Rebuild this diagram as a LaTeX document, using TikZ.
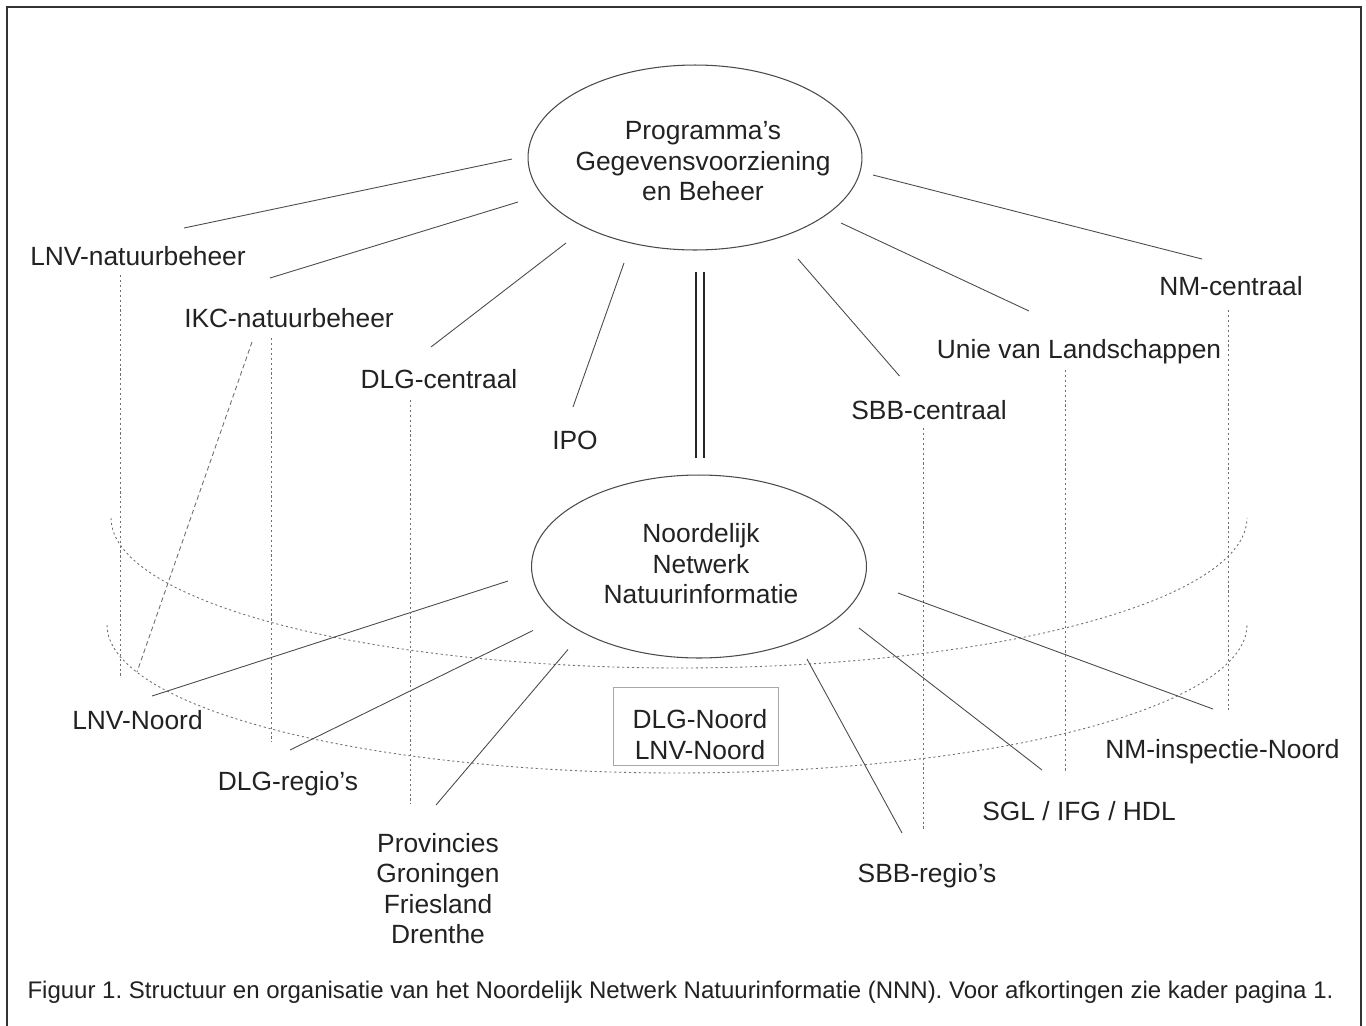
\documentclass[tikz,border=0pt]{standalone}
\usepackage{fontspec}
\setmainfont{Liberation Sans}
\usetikzlibrary{shapes.geometric}
\definecolor{txt}{HTML}{222222}
\definecolor{ln}{HTML}{4A4A4A}
\definecolor{dt}{HTML}{707070}
\definecolor{bx}{HTML}{A8A8A8}
\newcommand\lblfont{\fontsize{15}{17.4}\selectfont}
\newcommand\capfont{\fontsize{13.66}{16}\selectfont}
\frenchspacing
\tikzset{
  lbl/.style={font=\lblfont, text=txt, inner sep=0pt, anchor=base},
  mlbl/.style={font=\lblfont, text=txt, inner sep=0pt, align=center},
  bigell/.style={ellipse, draw=ln, line width=0.6pt, inner sep=0pt},
  link/.style={draw=ln, line width=0.5pt},
  dotl/.style={draw=dt, line width=0.5pt, dash pattern=on 1.2pt off 1.6pt},
  dashl/.style={draw=dt, line width=0.5pt, dash pattern=on 2.6pt off 1.8pt},
  framel/.style={draw=black!80, line width=1.4pt},
  kaderbox/.style={draw=bx, line width=0.5pt, inner sep=0pt},
  dbl/.style={draw=black!85, line width=1.4pt, double=white, double distance=2.9pt}
}
\begin{document}
\begin{tikzpicture}[x=0.02cm,y=-0.02cm]
\useasboundingbox (0,0) rectangle (1366,1025);
\fill[white] (0,0) rectangle (1366,1025);
% frame
\draw[framel] (7,1040) -- (7,7) -- (1361,7) -- (1361,1040);

% dotted rings
\draw[dotl] plot[domain=180:360, samples=120] ({679+568*cos(\x)}, {518-150*sin(\x)});
\draw[dotl] plot[domain=180:360, samples=120] ({677+570*cos(\x)}, {625-148*sin(\x)});

% central ellipses
\node[bigell, minimum width=6.68cm, minimum height=3.70cm] (P) at (695,157.5) {};
\node[mlbl] (Pt) at (703,161.4) {Programma’s\\Gegevensvoorziening\\en Beheer};
\node[bigell, minimum width=6.70cm, minimum height=3.66cm] (N) at (699,566.5) {};
\node[mlbl] (Nt) at (701,563.6) {Noordelijk\\Netwerk\\Natuurinformatie};

% kader
\node[kaderbox, minimum width=3.3cm, minimum height=1.56cm] (kb) at (695.5,726) {};
\node[mlbl] (kt) at (700,734.4) {DLG-Noord\\LNV-Noord};

% labels
\node[lbl] (lnvnb) at (138,265) {LNV-natuurbeheer};
\node[lbl] (ikc) at (289,327) {IKC-natuurbeheer};
\node[lbl] (dlgc) at (439,388) {DLG-centraal};
\node[lbl] (ipo) at (575,449) {IPO};
\node[lbl] (sbbc) at (929,419) {SBB-centraal};
\node[lbl] (unie) at (1079,358) {Unie van Landschappen};
\node[lbl] (nmc) at (1231,295) {NM-centraal};
\node[lbl] (lnvn) at (137.5,729) {LNV-Noord};
\node[lbl] (dlgr) at (288,790) {DLG-regio’s};
\node[mlbl] (prov) at (438,888.7) {Provincies\\Groningen\\Friesland\\Drenthe};
\node[lbl] (sbbr) at (927,882.7) {SBB-regio’s};
\node[lbl] (sgl) at (1079,820.7) {SGL / IFG / HDL};
\node[lbl] (nmin) at (1222.5,758.3) {NM-inspectie-Noord};
\node[font=\capfont, text=txt, inner sep=0pt, anchor=base] (cap) at (680.5,998) {Figuur 1. Structuur en organisatie van het Noordelijk Netwerk Natuurinformatie (NNN). Voor afkortingen zie kader pagina 1.};

% connector ends, top ellipse
\coordinate (pa1) at (512,159);   \coordinate (la1) at (184,228);
\coordinate (pa2) at (518,202);   \coordinate (la2) at (270,278);
\coordinate (pa3) at (566,243);   \coordinate (la3) at (431,347);
\coordinate (pa4) at (624,263);   \coordinate (la4) at (573,407);
\coordinate (pa5) at (798,259);   \coordinate (la5) at (899.5,376);
\coordinate (pa6) at (841,223);   \coordinate (la6) at (1029,311);
\coordinate (pa7) at (873,175);   \coordinate (la7) at (1202,259);
% connector ends, bottom ellipse
\coordinate (na1) at (508,581);   \coordinate (lb1) at (152,696);
\coordinate (na2) at (533,630.5); \coordinate (lb2) at (290,750);
\coordinate (na3) at (568,649.5); \coordinate (lb3) at (436,805);
\coordinate (na4) at (807,659);   \coordinate (lb4) at (902,833);
\coordinate (na5) at (859,628);   \coordinate (lb5) at (1042,770);
\coordinate (na6) at (898,593);   \coordinate (lb6) at (1213,709);

\foreach \i in {1,...,7} { \draw[link] (pa\i) -- (la\i); }
\foreach \i in {1,...,6} { \draw[link] (na\i) -- (lb\i); }

% double link
\coordinate (d1) at (700,272); \coordinate (d2) at (700,458);
\draw[dbl] (d1) -- (d2);

% dotted verticals
\coordinate (v1a) at (120,275);    \coordinate (v1b) at (120,677);
\coordinate (v2a) at (271,338);    \coordinate (v2b) at (271,742);
\coordinate (v3a) at (410,400);    \coordinate (v3b) at (410,804);
\coordinate (v4a) at (923.5,428);  \coordinate (v4b) at (923.5,830);
\coordinate (v5a) at (1065,370);   \coordinate (v5b) at (1065,772);
\coordinate (v6a) at (1228,310);   \coordinate (v6b) at (1228,710);
\foreach \i in {1,...,6} { \draw[dotl] (v\i a) -- (v\i b); }

% dashed diagonal from IKC to LNV-Noord
\coordinate (ia) at (252,342); \coordinate (ib) at (137,672);
\draw[dashl] (ia) -- (ib);
\end{tikzpicture}
\end{document}
